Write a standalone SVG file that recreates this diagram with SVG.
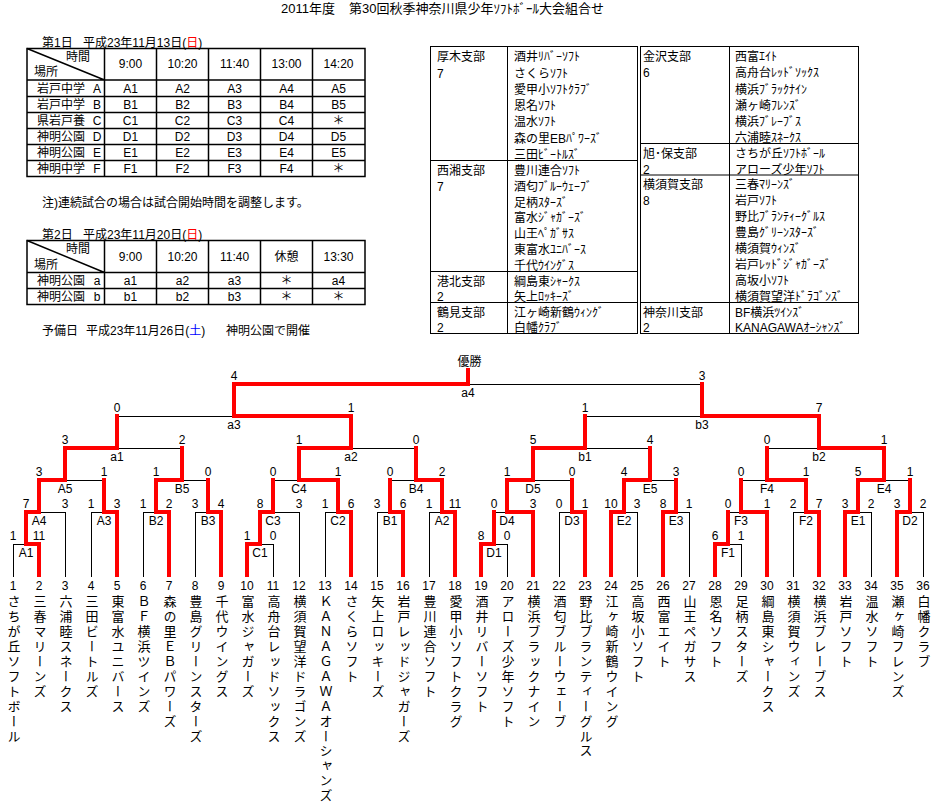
<svg xmlns="http://www.w3.org/2000/svg" width="937" height="805" viewBox="0 0 937 805">
<style>
text{font-family:"Liberation Sans","Noto Sans CJK JP",sans-serif;font-size:12px;fill:#000}
.m{text-anchor:middle}
.ttl{font-size:13px}
.tb{stroke:#000;stroke-width:1.5;fill:none}
.cl{stroke:#000;stroke-width:1;fill:none}
.bk{stroke:#000;stroke-width:1;fill:none}
.rd{stroke:#f00;stroke-width:4;fill:none;stroke-linecap:square;stroke-linejoin:miter}
.vn{writing-mode:vertical-rl;text-orientation:upright;font-size:13px;letter-spacing:1.9px}
.red{fill:#f00}
.blu{fill:#00f}
</style>
<rect x="0" y="0" width="937" height="805" fill="#fff"/>
<g id="title">
<text x="281" y="12.5" class="ttl">2011年度</text>
<text x="349" y="12.5" class="ttl">第30回秋季神奈川県少年ｿﾌﾄﾎﾞｰﾙ大会組合せ</text>
</g>
<g id="day1">
<text y="46.5"><tspan x="42">第1日</tspan><tspan x="83">平成23年11月13日(</tspan><tspan class="red">日</tspan><tspan>)</tspan></text>
<rect x="27" y="48.5" width="338" height="128" class="tb"/>
<path class="tb" d="M27,80H365M27,96.5H365M27,112.5H365M27,128.5H365M27,144.5H365M27,160.5H365M104.5,48.5V176.5M156.5,48.5V176.5M208.5,48.5V176.5M260.5,48.5V176.5M312.5,48.5V176.5M27,48.5L104.5,80"/>
<text x="78" y="61" class="m">時間</text>
<text x="46" y="76" class="m">場所</text>
<text x="130.5" y="68" class="m">9:00</text><text x="182.5" y="68" class="m">10:20</text><text x="234.5" y="68" class="m">11:40</text><text x="286.5" y="68" class="m">13:00</text><text x="338.5" y="68" class="m">14:20</text>
<text x="37" y="92.5">岩戸中学</text><text x="97" y="92.5" class="m">A</text>
<text x="130.5" y="92.5" class="m">A1</text><text x="182.5" y="92.5" class="m">A2</text><text x="234.5" y="92.5" class="m">A3</text><text x="286.5" y="92.5" class="m">A4</text><text x="338.5" y="92.5" class="m">A5</text>
<text x="37" y="108.5">岩戸中学</text><text x="97" y="108.5" class="m">B</text>
<text x="130.5" y="108.5" class="m">B1</text><text x="182.5" y="108.5" class="m">B2</text><text x="234.5" y="108.5" class="m">B3</text><text x="286.5" y="108.5" class="m">B4</text><text x="338.5" y="108.5" class="m">B5</text>
<text x="37" y="124.5">県岩戸養</text><text x="97" y="124.5" class="m">C</text>
<text x="130.5" y="124.5" class="m">C1</text><text x="182.5" y="124.5" class="m">C2</text><text x="234.5" y="124.5" class="m">C3</text><text x="286.5" y="124.5" class="m">C4</text><text x="338.5" y="124.5" class="m">＊</text>
<text x="37" y="140.5">神明公園</text><text x="97" y="140.5" class="m">D</text>
<text x="130.5" y="140.5" class="m">D1</text><text x="182.5" y="140.5" class="m">D2</text><text x="234.5" y="140.5" class="m">D3</text><text x="286.5" y="140.5" class="m">D4</text><text x="338.5" y="140.5" class="m">D5</text>
<text x="37" y="156.5">神明公園</text><text x="97" y="156.5" class="m">E</text>
<text x="130.5" y="156.5" class="m">E1</text><text x="182.5" y="156.5" class="m">E2</text><text x="234.5" y="156.5" class="m">E3</text><text x="286.5" y="156.5" class="m">E4</text><text x="338.5" y="156.5" class="m">E5</text>
<text x="37" y="172.5">神明中学</text><text x="97" y="172.5" class="m">F</text>
<text x="130.5" y="172.5" class="m">F1</text><text x="182.5" y="172.5" class="m">F2</text><text x="234.5" y="172.5" class="m">F3</text><text x="286.5" y="172.5" class="m">F4</text><text x="338.5" y="172.5" class="m">＊</text>
</g>
<g id="note">
<text x="42" y="206.5">注)連続試合の場合は試合開始時間を調整します。</text>
</g>
<g id="day2">
<text y="238.5"><tspan x="42">第2日</tspan><tspan x="83">平成23年11月20日(</tspan><tspan class="red">日</tspan><tspan>)</tspan></text>
<rect x="27" y="240.5" width="338" height="64" class="tb"/>
<path class="tb" d="M27,272.5H365M27,288.5H365M104.5,240.5V304.5M156.5,240.5V304.5M208.5,240.5V304.5M260.5,240.5V304.5M312.5,240.5V304.5M27,240.5L104.5,272.5"/>
<text x="78" y="252.5" class="m">時間</text>
<text x="46" y="269" class="m">場所</text>
<text x="130.5" y="261" class="m">9:00</text><text x="182.5" y="261" class="m">10:20</text><text x="234.5" y="261" class="m">11:40</text><text x="286.5" y="261" class="m">休憩</text><text x="338.5" y="261" class="m">13:30</text>
<text x="37" y="284.5">神明公園</text><text x="97" y="284.5" class="m">a</text>
<text x="130.5" y="284.5" class="m">a1</text><text x="182.5" y="284.5" class="m">a2</text><text x="234.5" y="284.5" class="m">a3</text><text x="286.5" y="284.5" class="m">＊</text><text x="338.5" y="284.5" class="m">a4</text>
<text x="37" y="300.5">神明公園</text><text x="97" y="300.5" class="m">b</text>
<text x="130.5" y="300.5" class="m">b1</text><text x="182.5" y="300.5" class="m">b2</text><text x="234.5" y="300.5" class="m">b3</text><text x="286.5" y="300.5" class="m">＊</text><text x="338.5" y="300.5" class="m">＊</text>
</g>
<g id="reserve">
<text y="334.5"><tspan x="42">予備日</tspan><tspan x="86">平成23年11月26日(</tspan><tspan class="blu">土</tspan><tspan>)</tspan><tspan x="226">神明公園で開催</tspan></text>
</g>
<g id="clubs-left">
<rect x="430.5" y="46.5" width="207" height="287" class="cl"/>
<path class="cl" d="M507.5,46.5V333.5M430.5,160.5H637.5M430.5,271.5H637.5M430.5,302.5H637.5"/>
<text x="437" y="61.3">厚木支部</text><text x="437" y="77.6">7</text>
<text x="514" y="61.3">酒井ﾘﾊﾞｰｿﾌﾄ</text>
<text x="514" y="77.6">さくらｿﾌﾄ</text>
<text x="514" y="93.9">愛甲小ｿﾌﾄｸﾗﾌﾞ</text>
<text x="514" y="110.1">恩名ｿﾌﾄ</text>
<text x="514" y="126.4">温水ｿﾌﾄ</text>
<text x="514" y="142.7">森の里EBﾊﾟﾜｰｽﾞ</text>
<text x="514" y="159">三田ﾋﾞｰﾄﾙｽﾞ</text>
<text x="437" y="174.9">西湘支部</text><text x="437" y="190.7">7</text>
<text x="514" y="174.9">豊川連合ｿﾌﾄ</text>
<text x="514" y="190.7">酒匂ﾌﾞﾙｰｳｪｰﾌﾞ</text>
<text x="514" y="206.6">足柄ｽﾀｰｽﾞ</text>
<text x="514" y="222.4">富水ｼﾞｬｶﾞｰｽﾞ</text>
<text x="514" y="238.3">山王ﾍﾟｶﾞｻｽ</text>
<text x="514" y="254.1">東富水ﾕﾆﾊﾞｰｽ</text>
<text x="514" y="270">千代ｳｲﾝｸﾞｽ</text>
<text x="437" y="285.5">港北支部</text><text x="437" y="301">2</text>
<text x="514" y="285.5">綱島東ｼｬｰｸｽ</text>
<text x="514" y="301">矢上ﾛｯｷｰｽﾞ</text>
<text x="437" y="316.5">鶴見支部</text><text x="437" y="332">2</text>
<text x="514" y="316.5">江ヶ崎新鶴ｳｨﾝｸﾞ</text>
<text x="514" y="332">白幡ｸﾗﾌﾞ</text>
</g>
<g id="clubs-right">
<rect x="640.5" y="46.5" width="218" height="287" class="cl"/>
<path class="cl" d="M729.5,46.5V333.5M640.5,143.5H858.5M640.5,175H858.5M640.5,302.5H858.5"/>
<text x="643" y="61.2">金沢支部</text><text x="643" y="77.3">6</text>
<text x="735" y="61.2">西富ｴｲﾄ</text>
<text x="735" y="77.3">高舟台ﾚｯﾄﾞｿｯｸｽ</text>
<text x="735" y="93.5">横浜ﾌﾞﾗｯｸﾅｲﾝ</text>
<text x="735" y="109.7">瀬ヶ崎ﾌﾚﾝｽﾞ</text>
<text x="735" y="125.8">横浜ﾌﾞﾚｰﾌﾞｽ</text>
<text x="735" y="142">六浦睦ｽﾈｰｸｽ</text>
<text x="643" y="157.8">旭･保支部</text><text x="643" y="173.5">2</text>
<text x="735" y="157.8">さちが丘ｿﾌﾄﾎﾞｰﾙ</text>
<text x="735" y="173.5">アローズ少年ｿﾌﾄ</text>
<text x="643" y="189.4">横須賀支部</text><text x="643" y="205.4">8</text>
<text x="735" y="189.4">三春ﾏﾘｰﾝｽﾞ</text>
<text x="735" y="205.4">岩戸ｿﾌﾄ</text>
<text x="735" y="221.3">野比ﾌﾞﾗﾝﾃｨｰｸﾞﾙｽ</text>
<text x="735" y="237.3">豊島ｸﾞﾘｰﾝｽﾀｰｽﾞ</text>
<text x="735" y="253.2">横須賀ｳｨﾝｽﾞ</text>
<text x="735" y="269.1">岩戸ﾚｯﾄﾞｼﾞｬｶﾞｰｽﾞ</text>
<text x="735" y="285.1">高坂小ｿﾌﾄ</text>
<text x="735" y="301">横須賀望洋ﾄﾞﾗｺﾞﾝｽﾞ</text>
<text x="643" y="316.5">神奈川支部</text><text x="643" y="332">2</text>
<text x="735" y="316.5">BF横浜ﾂｲﾝｽﾞ</text>
<text x="735" y="332">KANAGAWAｵｰｼｬﾝｽﾞ</text>
</g>
<g id="connectors">
<path class="bk" d="M13,544.5H39M247,544.5H273M481,544.5H507M715,544.5H741
M26,512.5H65M91,512.5H117M143,512.5H169M195,512.5H221M260,512.5H299M325,512.5H351M377,512.5H403M429,512.5H455M494,512.5H533M559,512.5H585M611,512.5H637M663,512.5H689M728,512.5H767M793,512.5H819M845,512.5H871M897,512.5H923
M39,480.5H104M156,480.5H208M273,480.5H338M390,480.5H442M507,480.5H572M624,480.5H676M741,480.5H806M858,480.5H910
M65,448.5H182M299,448.5H416M533,448.5H650M767,448.5H884
M117,416.5H351M585,416.5H819
M234,384.5H702"/>
<path class="bk" d="M13.5,544V577M39.5,544V577M65.5,512V577M91.5,512V577M117.5,512V577M143.5,512V577M169.5,512V577M195.5,512V577M221.5,512V577M247.5,544V577M273.5,544V577M299.5,512V577M325.5,512V577M351.5,512V577M377.5,512V577M403.5,512V577M429.5,512V577M455.5,512V577M481.5,544V577M507.5,544V577M533.5,512V577M559.5,512V577M585.5,512V577M611.5,512V577M637.5,512V577M663.5,512V577M689.5,512V577M715.5,544V577M741.5,544V577M767.5,512V577M793.5,512V577M819.5,512V577M845.5,512V577M871.5,512V577M897.5,512V577M923.5,512V577"/>
<path class="rd" d="M26,512V544H39V575M260,512V544H247V575M494,512V544H481V575M728,512V544H715V575
M39,480V512H26M104,480V512H117V575M156,480V512H169V575M208,480V512H221V575M273,480V512H260M338,480V512H351V575M390,480V512H403V575M442,480V512H455V575
M507,480V512H533V575M572,480V512H585V575M624,480V512H611V575M676,480V512H663V575M741,480V512H767V575M806,480V512H819V575M858,480V512H845V575M910,480V512H897V575
M65,448V480H39M182,448V480H156M299,448V480H338M416,448V480H442M533,448V480H507M650,448V480H624M767,448V480H806M884,448V480H858
M117,416V448H65M351,416V448H299M585,416V448H533M819,416V448H884
M234,384V416H351M702,384V416H819
M468,370V384H234"/>
</g>
<g id="champion"><text x="469.5" y="366" class="m">優勝</text></g>
<g id="m-a4"><text x="234" y="380" class="m">4</text><text x="702" y="380" class="m">3</text><text x="468" y="397" class="m">a4</text></g>
<g id="m-a3"><text x="117" y="412" class="m">0</text><text x="351" y="412" class="m">1</text><text x="234" y="429" class="m">a3</text></g>
<g id="m-b3"><text x="585" y="412" class="m">1</text><text x="819" y="412" class="m">7</text><text x="702" y="429" class="m">b3</text></g>
<g id="m-a1"><text x="65" y="444" class="m">3</text><text x="182" y="444" class="m">2</text><text x="117" y="461" class="m">a1</text></g>
<g id="m-a2"><text x="299" y="444" class="m">1</text><text x="416" y="444" class="m">0</text><text x="351" y="461" class="m">a2</text></g>
<g id="m-b1"><text x="533" y="444" class="m">5</text><text x="650" y="444" class="m">4</text><text x="585" y="461" class="m">b1</text></g>
<g id="m-b2"><text x="767" y="444" class="m">0</text><text x="884" y="444" class="m">1</text><text x="819" y="461" class="m">b2</text></g>
<g id="m-A5"><text x="39" y="476" class="m">3</text><text x="104" y="476" class="m">1</text><text x="65" y="493" class="m">A5</text></g>
<g id="m-B5"><text x="156" y="476" class="m">1</text><text x="208" y="476" class="m">0</text><text x="182" y="493" class="m">B5</text></g>
<g id="m-C4"><text x="273" y="476" class="m">0</text><text x="338" y="476" class="m">1</text><text x="299" y="493" class="m">C4</text></g>
<g id="m-B4"><text x="390" y="476" class="m">0</text><text x="442" y="476" class="m">2</text><text x="416" y="493" class="m">B4</text></g>
<g id="m-D5"><text x="507" y="476" class="m">1</text><text x="572" y="476" class="m">0</text><text x="533" y="493" class="m">D5</text></g>
<g id="m-E5"><text x="624" y="476" class="m">4</text><text x="676" y="476" class="m">3</text><text x="650" y="493" class="m">E5</text></g>
<g id="m-F4"><text x="741" y="476" class="m">0</text><text x="806" y="476" class="m">1</text><text x="767" y="493" class="m">F4</text></g>
<g id="m-E4"><text x="858" y="476" class="m">5</text><text x="910" y="476" class="m">1</text><text x="884" y="493" class="m">E4</text></g>
<g id="m-A4"><text x="26" y="508" class="m">7</text><text x="65" y="508" class="m">3</text><text x="39" y="525" class="m">A4</text></g>
<g id="m-A3"><text x="91" y="508" class="m">1</text><text x="117" y="508" class="m">3</text><text x="104" y="525" class="m">A3</text></g>
<g id="m-B2"><text x="143" y="508" class="m">1</text><text x="169" y="508" class="m">2</text><text x="156" y="525" class="m">B2</text></g>
<g id="m-B3"><text x="195" y="508" class="m">3</text><text x="221" y="508" class="m">4</text><text x="208" y="525" class="m">B3</text></g>
<g id="m-C3"><text x="260" y="508" class="m">8</text><text x="299" y="508" class="m">3</text><text x="273" y="525" class="m">C3</text></g>
<g id="m-C2"><text x="325" y="508" class="m">1</text><text x="351" y="508" class="m">6</text><text x="338" y="525" class="m">C2</text></g>
<g id="m-B1"><text x="377" y="508" class="m">3</text><text x="403" y="508" class="m">6</text><text x="390" y="525" class="m">B1</text></g>
<g id="m-A2"><text x="429" y="508" class="m">1</text><text x="455" y="508" class="m">11</text><text x="442" y="525" class="m">A2</text></g>
<g id="m-D4"><text x="494" y="508" class="m">0</text><text x="533" y="508" class="m">3</text><text x="507" y="525" class="m">D4</text></g>
<g id="m-D3"><text x="559" y="508" class="m">0</text><text x="585" y="508" class="m">1</text><text x="572" y="525" class="m">D3</text></g>
<g id="m-E2"><text x="611" y="508" class="m">10</text><text x="637" y="508" class="m">3</text><text x="624" y="525" class="m">E2</text></g>
<g id="m-E3"><text x="663" y="508" class="m">8</text><text x="689" y="508" class="m">1</text><text x="676" y="525" class="m">E3</text></g>
<g id="m-F3"><text x="728" y="508" class="m">0</text><text x="767" y="508" class="m">1</text><text x="741" y="525" class="m">F3</text></g>
<g id="m-F2"><text x="793" y="508" class="m">2</text><text x="819" y="508" class="m">7</text><text x="806" y="525" class="m">F2</text></g>
<g id="m-E1"><text x="845" y="508" class="m">3</text><text x="871" y="508" class="m">2</text><text x="858" y="525" class="m">E1</text></g>
<g id="m-D2"><text x="897" y="508" class="m">3</text><text x="923" y="508" class="m">2</text><text x="910" y="525" class="m">D2</text></g>
<g id="m-A1"><text x="13" y="540" class="m">1</text><text x="39" y="540" class="m">11</text><text x="26" y="557" class="m">A1</text></g>
<g id="m-C1"><text x="247" y="540" class="m">1</text><text x="273" y="540" class="m">0</text><text x="260" y="557" class="m">C1</text></g>
<g id="m-D1"><text x="481" y="540" class="m">8</text><text x="507" y="540" class="m">0</text><text x="494" y="557" class="m">D1</text></g>
<g id="m-F1"><text x="715" y="540" class="m">6</text><text x="741" y="540" class="m">1</text><text x="728" y="557" class="m">F1</text></g>
<g id="team1"><text x="13" y="590" class="m">1</text><text x="13" y="595" class="vn">さちが丘ソフトボール</text></g>
<g id="team2"><text x="39" y="590" class="m">2</text><text x="39" y="595" class="vn">三春マリーンズ</text></g>
<g id="team3"><text x="65" y="590" class="m">3</text><text x="65" y="595" class="vn">六浦睦スネークス</text></g>
<g id="team4"><text x="91" y="590" class="m">4</text><text x="91" y="595" class="vn">三田ビートルズ</text></g>
<g id="team5"><text x="117" y="590" class="m">5</text><text x="117" y="595" class="vn">東富水ユニバース</text></g>
<g id="team6"><text x="143" y="590" class="m">6</text><text x="143" y="595" class="vn">ＢＦ横浜ツインズ</text></g>
<g id="team7"><text x="169" y="590" class="m">7</text><text x="169" y="595" class="vn">森の里ＥＢパワーズ</text></g>
<g id="team8"><text x="195" y="590" class="m">8</text><text x="195" y="595" class="vn">豊島グリーンスターズ</text></g>
<g id="team9"><text x="221" y="590" class="m">9</text><text x="221" y="595" class="vn">千代ウイングス</text></g>
<g id="team10"><text x="247" y="590" class="m">10</text><text x="247" y="595" class="vn">富水ジャガーズ</text></g>
<g id="team11"><text x="273" y="590" class="m">11</text><text x="273" y="595" class="vn">高舟台レッドソックス</text></g>
<g id="team12"><text x="299" y="590" class="m">12</text><text x="299" y="595" class="vn">横須賀望洋ドラゴンズ</text></g>
<g id="team13"><text x="325" y="590" class="m">13</text><text x="325" y="595" class="vn">ＫＡＮＡＧＡＷＡオーシャンズ</text></g>
<g id="team14"><text x="351" y="590" class="m">14</text><text x="351" y="595" class="vn">さくらソフト</text></g>
<g id="team15"><text x="377" y="590" class="m">15</text><text x="377" y="595" class="vn">矢上ロッキーズ</text></g>
<g id="team16"><text x="403" y="590" class="m">16</text><text x="403" y="595" class="vn">岩戸レッドジャガーズ</text></g>
<g id="team17"><text x="429" y="590" class="m">17</text><text x="429" y="595" class="vn">豊川連合ソフト</text></g>
<g id="team18"><text x="455" y="590" class="m">18</text><text x="455" y="595" class="vn">愛甲小ソフトクラグ</text></g>
<g id="team19"><text x="481" y="590" class="m">19</text><text x="481" y="595" class="vn">酒井リバーソフト</text></g>
<g id="team20"><text x="507" y="590" class="m">20</text><text x="507" y="595" class="vn">アローズ少年ソフト</text></g>
<g id="team21"><text x="533" y="590" class="m">21</text><text x="533" y="595" class="vn">横浜ブラックナイン</text></g>
<g id="team22"><text x="559" y="590" class="m">22</text><text x="559" y="595" class="vn">酒匂ブルーウェーブ</text></g>
<g id="team23"><text x="585" y="590" class="m">23</text><text x="585" y="595" class="vn">野比ブランティーグルス</text></g>
<g id="team24"><text x="611" y="590" class="m">24</text><text x="611" y="595" class="vn">江ヶ崎新鶴ウイング</text></g>
<g id="team25"><text x="637" y="590" class="m">25</text><text x="637" y="595" class="vn">高坂小ソフト</text></g>
<g id="team26"><text x="663" y="590" class="m">26</text><text x="663" y="595" class="vn">西富エイト</text></g>
<g id="team27"><text x="689" y="590" class="m">27</text><text x="689" y="595" class="vn">山王ペガサス</text></g>
<g id="team28"><text x="715" y="590" class="m">28</text><text x="715" y="595" class="vn">恩名ソフト</text></g>
<g id="team29"><text x="741" y="590" class="m">29</text><text x="741" y="595" class="vn">足柄スターズ</text></g>
<g id="team30"><text x="767" y="590" class="m">30</text><text x="767" y="595" class="vn">綱島東シャークス</text></g>
<g id="team31"><text x="793" y="590" class="m">31</text><text x="793" y="595" class="vn">横須賀ウィンズ</text></g>
<g id="team32"><text x="819" y="590" class="m">32</text><text x="819" y="595" class="vn">横浜ブレーブス</text></g>
<g id="team33"><text x="845" y="590" class="m">33</text><text x="845" y="595" class="vn">岩戸ソフト</text></g>
<g id="team34"><text x="871" y="590" class="m">34</text><text x="871" y="595" class="vn">温水ソフト</text></g>
<g id="team35"><text x="897" y="590" class="m">35</text><text x="897" y="595" class="vn">瀬ヶ崎フレンズ</text></g>
<g id="team36"><text x="923" y="590" class="m">36</text><text x="923" y="595" class="vn">白幡クラブ</text></g>
</svg>
